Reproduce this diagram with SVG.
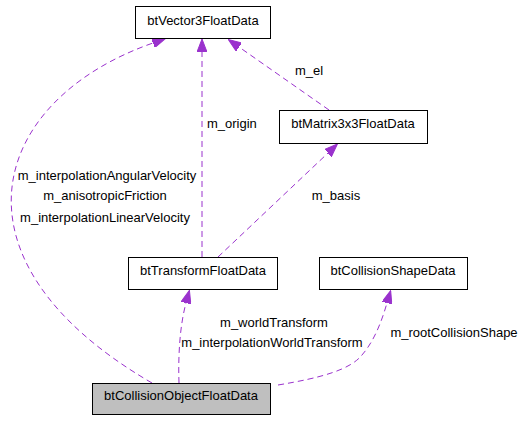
<svg xmlns="http://www.w3.org/2000/svg" width="524" height="421" viewBox="0 0 524 421">
<style>
text{font-family:"Liberation Sans",Arial,sans-serif;font-size:13px;fill:#000}
.node rect{fill:#fff;stroke:#000;stroke-width:1}
.edge path{fill:none;stroke:#9a32cd;stroke-width:1;stroke-dasharray:6,4}
.c{text-anchor:middle}
</style>
<defs>
<marker id="arr" viewBox="0 0 13 10" refX="0" refY="5" markerWidth="13" markerHeight="10" markerUnits="userSpaceOnUse" orient="auto">
<path d="M0,0 L13,5 L0,10 z" fill="#9a32cd" stroke="#9a32cd" stroke-width="1"/>
</marker>
</defs>
<rect width="524" height="421" fill="#fff"/>
<g id="connectors" class="edge">
<path d="M202,257 L202,52" marker-end="url(#arr)"/>
<path d="M329,110 L239,47" marker-end="url(#arr)"/>
<path d="M218,257 L328,153" marker-end="url(#arr)"/>
<path d="M152,383 C-60,260 -10,100 153,43" marker-end="url(#arr)"/>
<path d="M179,383 C178,355 180,325 186,303" marker-end="url(#arr)"/>
<path d="M278,385 C320,378 350,370 362,355 C375,340 382,320 387,303" marker-end="url(#arr)"/>
</g>
<g id="labels">
<text class="c" x="107" y="180">m_interpolationAngularVelocity</text>
<text class="c" x="105" y="200">m_anisotropicFriction</text>
<text class="c" x="105" y="222">m_interpolationLinearVelocity</text>
<text x="207" y="128">m_origin</text>
<text class="c" x="309" y="75">m_el</text>
<text class="c" x="336" y="200">m_basis</text>
<text class="c" x="274" y="327">m_worldTransform</text>
<text class="c" x="272" y="347">m_interpolationWorldTransform</text>
<text class="c" x="454" y="337">m_rootCollisionShape</text>
</g>
<g id="btVector3FloatData" class="node">
<rect x="135.5" y="6.5" width="135" height="32"/>
<text class="c" x="203" y="25">btVector3FloatData</text>
</g>
<g id="btMatrix3x3FloatData" class="node">
<rect x="279.5" y="110.5" width="148" height="33"/>
<text class="c" x="353" y="128">btMatrix3x3FloatData</text>
</g>
<g id="btTransformFloatData" class="node">
<rect x="128.5" y="257.5" width="149" height="32"/>
<text class="c" x="203" y="275">btTransformFloatData</text>
</g>
<g id="btCollisionShapeData" class="node">
<rect x="319.5" y="257.5" width="148" height="32"/>
<text class="c" x="393" y="275">btCollisionShapeData</text>
</g>
<g id="btCollisionObjectFloatData" class="node">
<rect x="92.5" y="383.5" width="178" height="31" style="fill:#bfbfbf"/>
<text class="c" x="181" y="400">btCollisionObjectFloatData</text>
</g>
</svg>
